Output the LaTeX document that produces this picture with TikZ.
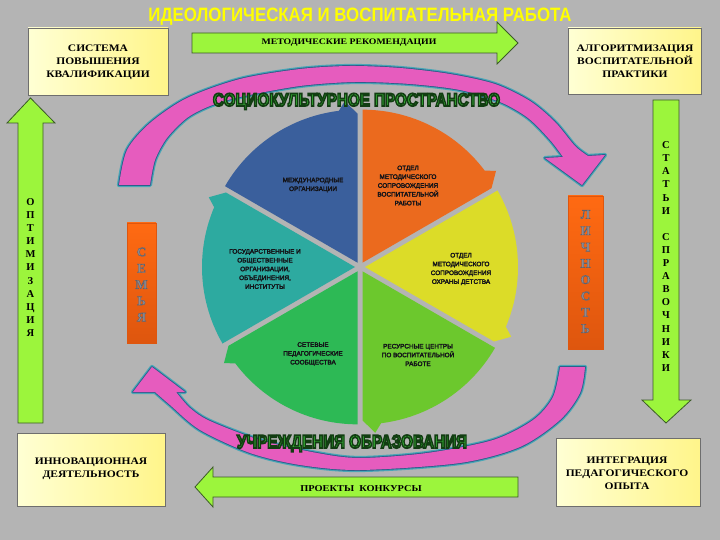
\documentclass[tikz,border=0pt]{standalone}
\usepackage{fontspec}
\setmainfont{Liberation Serif}
\newfontfamily\wserif{Liberation Serif}[FakeStretch=1.15]
\newfontfamily\lsans{Liberation Sans}
\definecolor{bgc}{HTML}{B4B4B4}
\definecolor{yelL}{HTML}{FFFFD4}
\definecolor{yelR}{HTML}{FFF58A}
\definecolor{boxline}{HTML}{6E6E6E}
\definecolor{grn}{HTML}{9CF53C}
\definecolor{grnline}{HTML}{3C5A28}
\definecolor{org1}{HTML}{FF6A12}
\definecolor{org2}{HTML}{DE560E}
\definecolor{ltr}{HTML}{8C8C94}
\definecolor{pinkf}{HTML}{E65CBE}
\definecolor{pinkline}{HTML}{2D5F8A}
\definecolor{pinkglow}{HTML}{48A6B6}
\definecolor{pblue}{HTML}{3A5F9C}
\definecolor{porange}{HTML}{EB6A1E}
\definecolor{pyellow}{HTML}{DCDC28}
\definecolor{plgreen}{HTML}{6CC82D}
\definecolor{pgreen}{HTML}{2DB955}
\definecolor{pteal}{HTML}{2DAAA0}
\definecolor{ttl}{HTML}{FFFF00}
\definecolor{gfill}{HTML}{3CCB3C}
\definecolor{pietext}{HTML}{141418}
% text drawn with fill + stroke (PDF text render mode 2)
\newcommand\strk[3]{\special{pdf:literal direct #1 RG #2 w 2 Tr}#3\special{pdf:literal direct 0 Tr}}
\newcommand\olt[1]{{\color{gfill}\strk{0.07 0.24 0.07}{1.3}{#1}}}
\tikzset{
 ybox/.style={draw=boxline, line width=0.6pt, left color=yelL, right color=yelR, inner sep=0pt},
 garrow/.style={fill=grn, draw=grnline, line width=0.8pt},
 orgbox/.style={top color=org1, bottom color=org2, draw=org2, line width=0.5pt, inner sep=0pt},
 boxtxt/.style={font=\wserif\bfseries\fontsize{10}{13}\selectfont, align=center, inner sep=0pt},
 pietxt/.style={font=\lsans\fontsize{6.4}{8.8}\selectfont, align=center, text=pietext, inner sep=0pt},
 vlet/.style={font=\bfseries\fontsize{10.5}{13.1}\selectfont, align=center, inner sep=0pt},
 glet/.style={font=\bfseries\fontsize{13}{16.3}\selectfont, align=center, text=ltr, inner sep=0pt},
 ring/.style={fill=pinkf},
}
\begin{document}
\begin{tikzpicture}[x=1pt,y=-1pt]
\fill[bgc] (0,0) rectangle (720,540);
\useasboundingbox (0,0) rectangle (720,540);

% title
\node[anchor=base, inner sep=0pt] (title) at (360,22) {\resizebox{423pt}{13.5pt}{\lsans\bfseries\color{ttl}ИДЕОЛОГИЧЕСКАЯ И ВОСПИТАТЕЛЬНАЯ РАБОТА}};

% boxes
\node[ybox, minimum width=140pt, minimum height=67pt] (b1) at (98,61.5) {};
\node[boxtxt] (t1) at (98,62.5) {СИСТЕМА\\ПОВЫШЕНИЯ\\КВАЛИФИКАЦИИ};
\node[ybox, minimum width=133pt, minimum height=66pt] (b2) at (634.5,61) {};
\node[boxtxt] (t2) at (635,61) {АЛГОРИТМИЗАЦИЯ\\ВОСПИТАТЕЛЬНОЙ\\ПРАКТИКИ};
\node[ybox, minimum width=148pt, minimum height=73pt] (b3) at (91,469.5) {};
\node[boxtxt] (t3) at (91,469) {ИННОВАЦИОННАЯ\\ДЕЯТЕЛЬНОСТЬ};
\node[ybox, minimum width=144pt, minimum height=68pt] (b4) at (628,472) {};
\node[boxtxt] (t4) at (627,473) {ИНТЕГРАЦИЯ\\ПЕДАГОГИЧЕСКОГО\\ОПЫТА};

% green arrows
\draw[garrow] (192,33) -- (497,33) -- (497,22) -- (518,43) -- (497,64) -- (497,53) -- (192,53) -- cycle;
\node[boxtxt, font=\wserif\bfseries\fontsize{8.5}{10}\selectfont] (t5) at (349,43) {МЕТОДИЧЕСКИЕ РЕКОМЕНДАЦИИ};
\draw[garrow] (518,477) -- (213,477) -- (213,467) -- (195,487) -- (213,507) -- (213,497) -- (518,497) -- cycle;
\node[boxtxt, font=\wserif\bfseries\fontsize{9}{10}\selectfont] (t6) at (361,489) {ПРОЕКТЫ\ \ КОНКУРСЫ};
\draw[garrow] (18,423) -- (18,123) -- (7,123) -- (30.5,98) -- (55,123) -- (43,123) -- (43,423) -- cycle;
\node[vlet] (t7) at (30.5,267.5) {О\\П\\Т\\И\\М\\И\\З\\А\\Ц\\И\\Я};
\draw[garrow] (653,100) -- (653,400) -- (642,400) -- (666,423) -- (691,400) -- (679,400) -- (679,100) -- cycle;
\node[vlet] (t8) at (666,256.5) {С\\Т\\А\\Т\\Ь\\И\\ \\С\\П\\Р\\А\\В\\О\\Ч\\Н\\И\\К\\И};

% orange bars
\node[orgbox, minimum width=29pt, minimum height=120pt] (fam) at (141.5,283) {};
\node[glet] (t9) at (141.5,284.5) {\strk{0.38 0.38 0.42}{0.4}{С\\Е\\М\\Ь\\Я}};
\node[orgbox, minimum width=35pt, minimum height=153pt] (lich) at (585.5,272.5) {};
\node[glet] (t10) at (585.5,271.5) {\strk{0.38 0.38 0.42}{0.4}{Л\\И\\Ч\\Н\\О\\С\\Т\\Ь}};

% ring arrows
\def\toparc{plot[smooth] coordinates {(119,185) (127,150) (150,123) (187,98) (240,79) (300,69) (350,66) (400,68) (450,74) (495,84) (530,101) (555,122) (575,146) (588,156)}
 -- (605,155) -- (582,185) -- (545,158) -- (563,157)
 -- plot[smooth] coordinates {(563,157) (550,140) (528,118) (500,102) (460,90) (410,84) (355,82) (300,86) (240,97) (210,106) (187,118) (167,138) (155,160) (150,185)} -- cycle}
\def\botarc{plot[smooth] coordinates {(585,367) (580,393) (560,420) (520,447) (460,463) (360,470) (300,465) (250,453) (200,430) (170,405) (155,392)}
 -- (133,392) -- (152,367) -- (185,392) -- (176,392)
 -- plot[smooth] coordinates {(176,392) (190,408) (210,421) (260,440) (317,453) (360,458) (427,453) (493,440) (533,420) (553,397) (560,367)} -- cycle}
\foreach \w/\c in {4.2/pinkglow, 1.8/pinkline}{
 \draw[line width=\w pt, draw=\c, line join=round] \toparc;
 \draw[line width=\w pt, draw=\c, line join=round] \botarc;
}
\fill[ring] \toparc;
\fill[ring] \botarc;

% pie
\foreach \a/\c in {-150/pblue, -90/porange, -30/pyellow, 30/plgreen, 90/pgreen, 150/pteal} {
 \pgfmathsetmacro\b{\a+60}
 \pgfmathsetmacro\m{\a+30}
 \pgfmathsetmacro\e{\b-7}
 \pgfmathsetmacro\s{\b-4.5}
 \fill[\c, shift={(360,267)}, shift={(\m:5)}] (0,0) -- plot[domain=\a:\e, samples=30] (\x:153) -- (\s:162) -- (\b:149) -- cycle;
}
\node[pietxt] (p1) at (313,185) {\strk{0.08 0.08 0.1}{0.22}{МЕЖДУНАРОДНЫЕ\\ОРГАНИЗАЦИИ}};
\node[pietxt] (p2) at (408,185.5) {\strk{0.08 0.08 0.1}{0.22}{ОТДЕЛ\\МЕТОДИЧЕСКОГО\\СОПРОВОЖДЕНИЯ\\ВОСПИТАТЕЛЬНОЙ\\РАБОТЫ}};
\node[pietxt] (p3) at (461,269) {\strk{0.08 0.08 0.1}{0.22}{ОТДЕЛ\\МЕТОДИЧЕСКОГО\\СОПРОВОЖДЕНИЯ\\ОХРАНЫ ДЕТСТВА}};
\node[pietxt] (p4) at (265,269) {\strk{0.08 0.08 0.1}{0.22}{ГОСУДАРСТВЕННЫЕ И\\ОБЩЕСТВЕННЫЕ\\ОРГАНИЗАЦИИ,\\ОБЪЕДИНЕНИЯ,\\ИНСТИТУТЫ}};
\node[pietxt] (p5) at (313,354) {\strk{0.08 0.08 0.1}{0.22}{СЕТЕВЫЕ\\ПЕДАГОГИЧЕСКИЕ\\СООБЩЕСТВА}};
\node[pietxt] (p6) at (418,355) {\strk{0.08 0.08 0.1}{0.22}{РЕСУРСНЫЕ ЦЕНТРЫ\\ПО ВОСПИТАТЕЛЬНОЙ\\РАБОТЕ}};

% outlined green captions
\node[anchor=base, inner sep=0pt] (soc) at (356.5,106) {\resizebox{287pt}{12.7pt}{\lsans\bfseries\fontsize{14}{16}\selectfont\olt{СОЦИОКУЛЬТУРНОЕ ПРОСТРАНСТВО}}};
\node[anchor=base, inner sep=0pt] (uch) at (352,448) {\resizebox{230pt}{13pt}{\lsans\bfseries\fontsize{14}{16}\selectfont\olt{УЧРЕЖДЕНИЯ ОБРАЗОВАНИЯ}}};
\end{tikzpicture}
\end{document}
